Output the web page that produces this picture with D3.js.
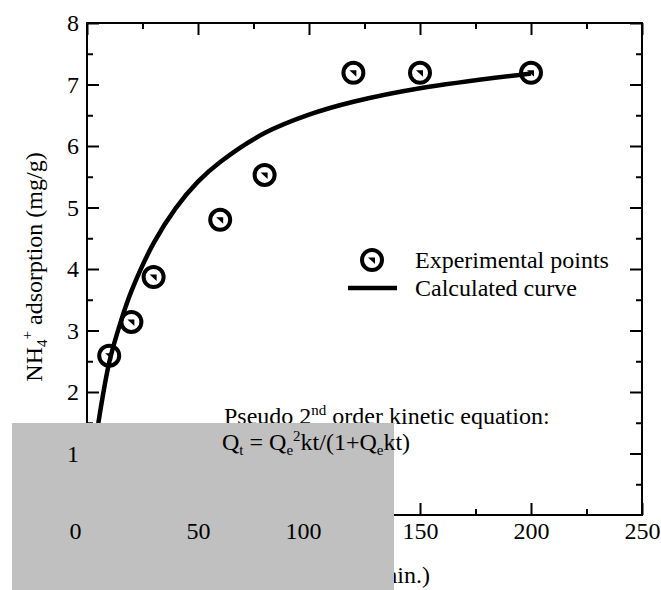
<!DOCTYPE html>
<html>
<head>
<meta charset="utf-8">
<script src="https://cdn.jsdelivr.net/npm/d3@7"></script>
<style>
  body { margin: 0; background: #fff; }
  svg text { font-family: "Liberation Serif", "Times New Roman", serif; fill: #000; }
</style>
</head>
<body>
<svg id="chart" width="661" height="590" font-family="Liberation Serif"></svg>
<script>
// experimental points (time in min, NH4+ adsorbed mg/g)
var expTime = [10, 20, 30, 60, 80, 120, 150, 200];
var expQ = [2.59, 3.14, 3.87, 4.80, 5.53, 7.19, 7.19, 7.19];

// calculated curve
var curveTime = [3, 5, 10, 15, 20, 30, 40, 50, 60, 80, 100, 120, 150, 200];
var curveQ = [0.95, 1.47, 2.48, 3.12, 3.64, 4.42, 4.99, 5.42, 5.74, 6.21, 6.51, 6.72, 6.94, 7.18];

var xMajor = [0, 50, 100, 150, 200, 250];
var xMinor = [25, 75, 125, 175, 225];
var yMajor = [1, 2, 3, 4, 5, 6, 7, 8];
var yMinor = [0.5, 1.5, 2.5, 3.5, 4.5, 5.5, 6.5, 7.5];

var svg = d3.select('#chart');
var x = d3.scaleLinear().domain([0, 250]).range([87, 642]);
var y = d3.scaleLinear().domain([0, 8]).range([515, 23]);
var fs = 24, small = 15;

var plot = svg.append('g');

// frame
plot.append('rect')
  .attr('x', x(0)).attr('y', y(8))
  .attr('width', x(250) - x(0)).attr('height', y(0) - y(8))
  .attr('fill', 'none').attr('stroke', '#000').attr('stroke-width', 2);

function tickAxis(axisFn, scale, vals, len, tr) {
  var a = axisFn(scale).tickValues(vals).tickSize(-len).tickSizeOuter(0).tickFormat('');
  var g = plot.append('g').attr('transform', tr).call(a);
  g.select('.domain').remove();
  g.selectAll('line').attr('stroke', '#000').attr('stroke-width', 2);
}
tickAxis(d3.axisBottom, x, xMajor, 12, 'translate(0,' + y(0) + ')');
tickAxis(d3.axisBottom, x, xMinor, 6, 'translate(0,' + y(0) + ')');
tickAxis(d3.axisTop, x, xMajor, 12, 'translate(0,' + y(8) + ')');
tickAxis(d3.axisTop, x, xMinor, 6, 'translate(0,' + y(8) + ')');
tickAxis(d3.axisLeft, y, yMajor, 12, 'translate(' + x(0) + ',0)');
tickAxis(d3.axisLeft, y, yMinor, 6, 'translate(' + x(0) + ',0)');
tickAxis(d3.axisRight, y, yMajor, 12, 'translate(' + x(250) + ',0)');
tickAxis(d3.axisRight, y, yMinor, 6, 'translate(' + x(250) + ',0)');

// curve
svg.append('clipPath').attr('id', 'clip').append('rect')
  .attr('x', x(0)).attr('y', y(8)).attr('width', x(250) - x(0)).attr('height', y(0) - y(8));
var line = d3.line()
  .x(function(d, i) { return x(curveTime[i]); })
  .y(function(d) { return y(d); })
  .curve(d3.curveCatmullRom.alpha(0.5));
plot.append('path').datum(curveQ)
  .attr('clip-path', 'url(#clip)')
  .attr('d', line)
  .attr('fill', 'none').attr('stroke', '#000').attr('stroke-width', 4.5);

function marker(g) {
  g.append('circle').attr('r', 10).attr('fill', 'none').attr('stroke', '#000').attr('stroke-width', 4);
  g.append('path').attr('d', 'M-4,-2.5L3,-2.5L3,4Z').attr('fill', '#000');
}
plot.selectAll('.pt').data(expQ).enter().append('g')
  .attr('class', 'pt')
  .attr('transform', function(d, i) { return 'translate(' + x(expTime[i]) + ',' + y(d) + ')'; })
  .each(function() { marker(d3.select(this)); });

// legend
var leg = plot.append('g');
marker(leg.append('g').attr('transform', 'translate(372,260)'));
leg.append('text').attr('x', 415).attr('y', 268).attr('font-size', fs).text('Experimental points');
leg.append('line').attr('x1', 348).attr('x2', 397).attr('y1', 288).attr('y2', 288)
  .attr('stroke', '#000').attr('stroke-width', 4.5);
leg.append('text').attr('x', 415).attr('y', 296).attr('font-size', fs).text('Calculated curve');

// equation title line
var t1 = plot.append('text').attr('x', 224).attr('y', 424).attr('font-size', fs);
t1.append('tspan').text('Pseudo 2');
t1.append('tspan').attr('font-size', small).attr('dy', -9).text('nd');
t1.append('tspan').attr('dy', 9).text(' order kinetic equation:');

// axis titles
var yt = plot.append('text').attr('transform', 'translate(42,' + ((y(0) + y(8)) / 2 - 2) + ') rotate(-90)')
  .attr('text-anchor', 'middle').attr('font-size', fs);
yt.append('tspan').text('NH');
yt.append('tspan').attr('font-size', small).attr('dy', 5).text('4');
yt.append('tspan').attr('font-size', small).attr('dy', -15).text('+');
yt.append('tspan').attr('dy', 10).text(' adsorption (mg/g)');

plot.append('text').attr('x', 430).attr('y', 583).attr('text-anchor', 'end')
  .attr('font-size', fs).text('Time (min.)');

// grey box laid over the lower left corner
svg.append('rect').attr('x', 12).attr('y', 423).attr('width', 382).attr('height', 167)
  .attr('fill', '#c0c0c0');

// tick labels on top
var yl = svg.append('g').attr('transform', 'translate(' + x(0) + ',0)')
  .call(d3.axisLeft(y).tickValues(yMajor).tickSize(0).tickPadding(8));
yl.select('.domain').remove();
yl.attr('font-family', null).attr('font-size', null);
yl.selectAll('text').attr('font-size', fs);

var labShift = { 0: -12, 100: -6 };
var xl = svg.append('g').attr('transform', 'translate(0,' + y(0) + ')')
  .call(d3.axisBottom(x).tickValues(xMajor).tickSize(0).tickPadding(7));
xl.select('.domain').remove();
xl.attr('font-family', null).attr('font-size', null);
xl.selectAll('text').attr('font-size', fs)
  .attr('x', function(d) { return labShift[d] || 0; });

var t2 = svg.append('text').attr('x', 222).attr('y', 450).attr('font-size', fs);
t2.append('tspan').text('Q');
t2.append('tspan').attr('font-size', small).attr('dy', 5).text('t');
t2.append('tspan').attr('dy', -5).text(' = Q');
t2.append('tspan').attr('font-size', small).attr('dy', 5).text('e');
t2.append('tspan').attr('font-size', small).attr('dy', -14).text('2');
t2.append('tspan').attr('dy', 9).text('kt/(1+Q');
t2.append('tspan').attr('font-size', small).attr('dy', 5).text('e');
t2.append('tspan').attr('dy', -5).text('kt)');
</script>
</body>
</html>
